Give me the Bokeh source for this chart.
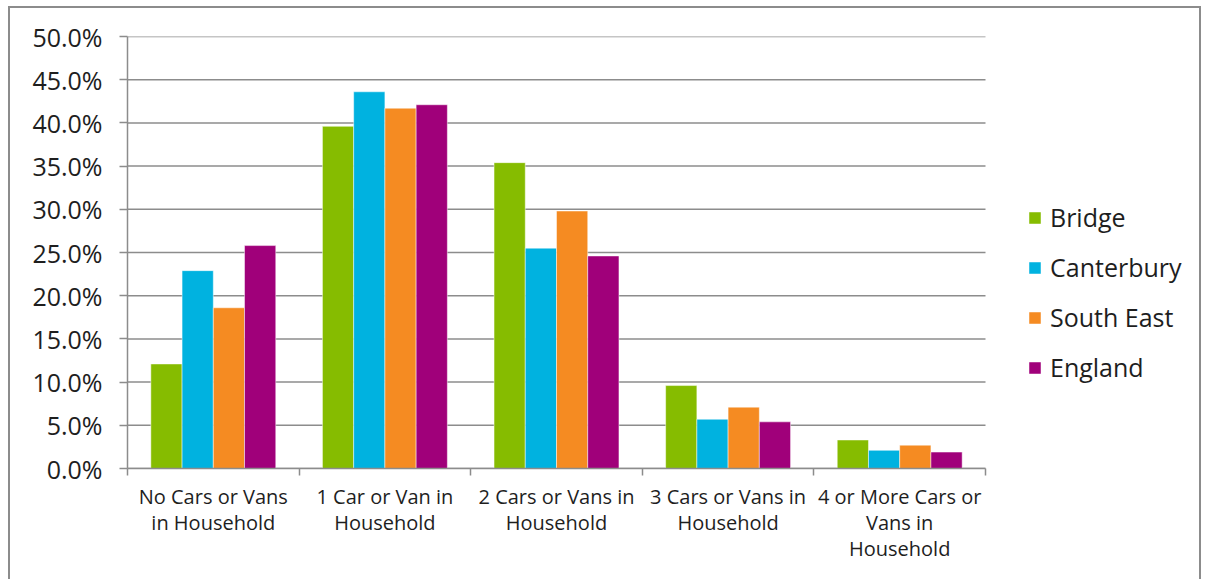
from bokeh.plotting import figure
from bokeh.models import (ColumnDataSource, Range1d, FixedTicker, Legend, LegendItem)
from bokeh.transform import dodge
from bokeh.embed import file_html
from bokeh.resources import INLINE

categories = ["No Cars or Vans\nin Household", "1 Car or Van in\nHousehold",
              "2 Cars or Vans in\nHousehold", "3 Cars or Vans in\nHousehold",
              "4 or More Cars or\nVans in\nHousehold"]
series = ["Bridge", "Canterbury", "South East", "England"]
bridge = [12.1, 39.6, 35.4, 9.6, 3.3]
canterbury = [22.9, 43.6, 25.5, 5.7, 2.1]
south_east = [18.6, 41.7, 29.8, 7.1, 2.7]
england = [25.8, 42.1, 24.6, 5.4, 1.9]
y_ticks = [0, 5, 10, 15, 20, 25, 30, 35, 40, 45, 50]
colors = ["#86BC00", "#00B2E0", "#F58B22", "#A0007A"]

FONT = "Open Sans"
GRID = "#8C8C8C"
TEXT = "#1E1E1E"

n = len(categories)
xpos = [i + 0.5 for i in range(n)]
source = ColumnDataSource(dict(x=xpos, Bridge=bridge, Canterbury=canterbury,
                               SouthEast=south_east, England=england))
cols = ["Bridge", "Canterbury", "SouthEast", "England"]

FRAME_W = 1072
UNIT_PX = 171.6
p = figure(frame_width=FRAME_W, frame_height=432, output_backend="svg", toolbar_location=None,
           x_range=Range1d(0, FRAME_W / UNIT_PX), y_range=Range1d(0, 50),
           min_border_left=117, min_border_top=28, min_border_right=0,
           min_border_bottom=117)
p.styles = {"margin-left": "8px", "margin-top": "6px", "border": "2px solid #8C8C8C"}
p.outline_line_color = None
p.background_fill_color = "white"
p.border_fill_color = "white"

# horizontal gridlines limited to the category area
p.segment(x0=[0] * len(y_ticks), x1=[n] * len(y_ticks), y0=y_ticks, y1=y_ticks,
          line_color=GRID, line_width=1.5)

bw = 0.182
offsets = [-1.5 * bw, -0.5 * bw, 0.5 * bw, 1.5 * bw]
renderers = []
for c, off, col in zip(cols, offsets, colors):
    r = p.vbar(x=dodge("x", off, range=p.x_range), top=c, width=bw, bottom=0,
               source=source, fill_color=col, line_color="white", line_width=0.8,
               line_alpha=0.6)
    renderers.append(r)

# y axis
p.yaxis.ticker = FixedTicker(ticks=y_ticks)
p.yaxis.major_label_overrides = {t: f"{t:.1f}%" for t in y_ticks}
p.yaxis.major_tick_out = 8
p.yaxis.major_tick_in = 0
p.yaxis.minor_tick_line_color = None
p.yaxis.axis_line_color = GRID
p.yaxis.axis_line_width = 1.5
p.yaxis.major_tick_line_color = GRID
p.yaxis.major_tick_line_width = 1.5
p.yaxis.major_label_text_font = FONT
p.yaxis.major_label_text_font_size = "25px"
p.yaxis.major_label_text_color = TEXT
p.yaxis.major_label_standoff = 17

# x axis
p.xaxis.bounds = (0, n)
p.xaxis.ticker = FixedTicker(ticks=xpos, minor_ticks=list(range(n + 1)))
p.xaxis.major_label_overrides = {x: lab for x, lab in zip(xpos, categories)}
p.xaxis.major_tick_line_color = None
p.xaxis.minor_tick_out = 7
p.xaxis.minor_tick_in = 0
p.xaxis.minor_tick_line_color = GRID
p.xaxis.minor_tick_line_width = 1.5
p.xaxis.axis_line_color = GRID
p.xaxis.axis_line_width = 1.5
p.xaxis.major_label_text_font = FONT
p.xaxis.major_label_text_font_size = "20px"
p.xaxis.major_label_text_color = TEXT
p.xaxis.major_label_text_line_height = 0.97
p.xaxis.major_label_standoff = 7

p.xgrid.grid_line_color = None
p.ygrid.grid_line_color = None

legend = Legend(items=[LegendItem(label=s, renderers=[r]) for s, r in zip(series, renderers)],
                location=(900, 84), orientation="vertical",
                glyph_width=15, glyph_height=15, label_standoff=8, spacing=16,
                label_height=30, padding=0, margin=0, border_line_color=None,
                background_fill_alpha=0,
                label_text_font=FONT, label_text_font_size="25px",
                label_text_color=TEXT)
p.add_layout(legend)

open("out.html", "w").write(file_html(p, INLINE))
